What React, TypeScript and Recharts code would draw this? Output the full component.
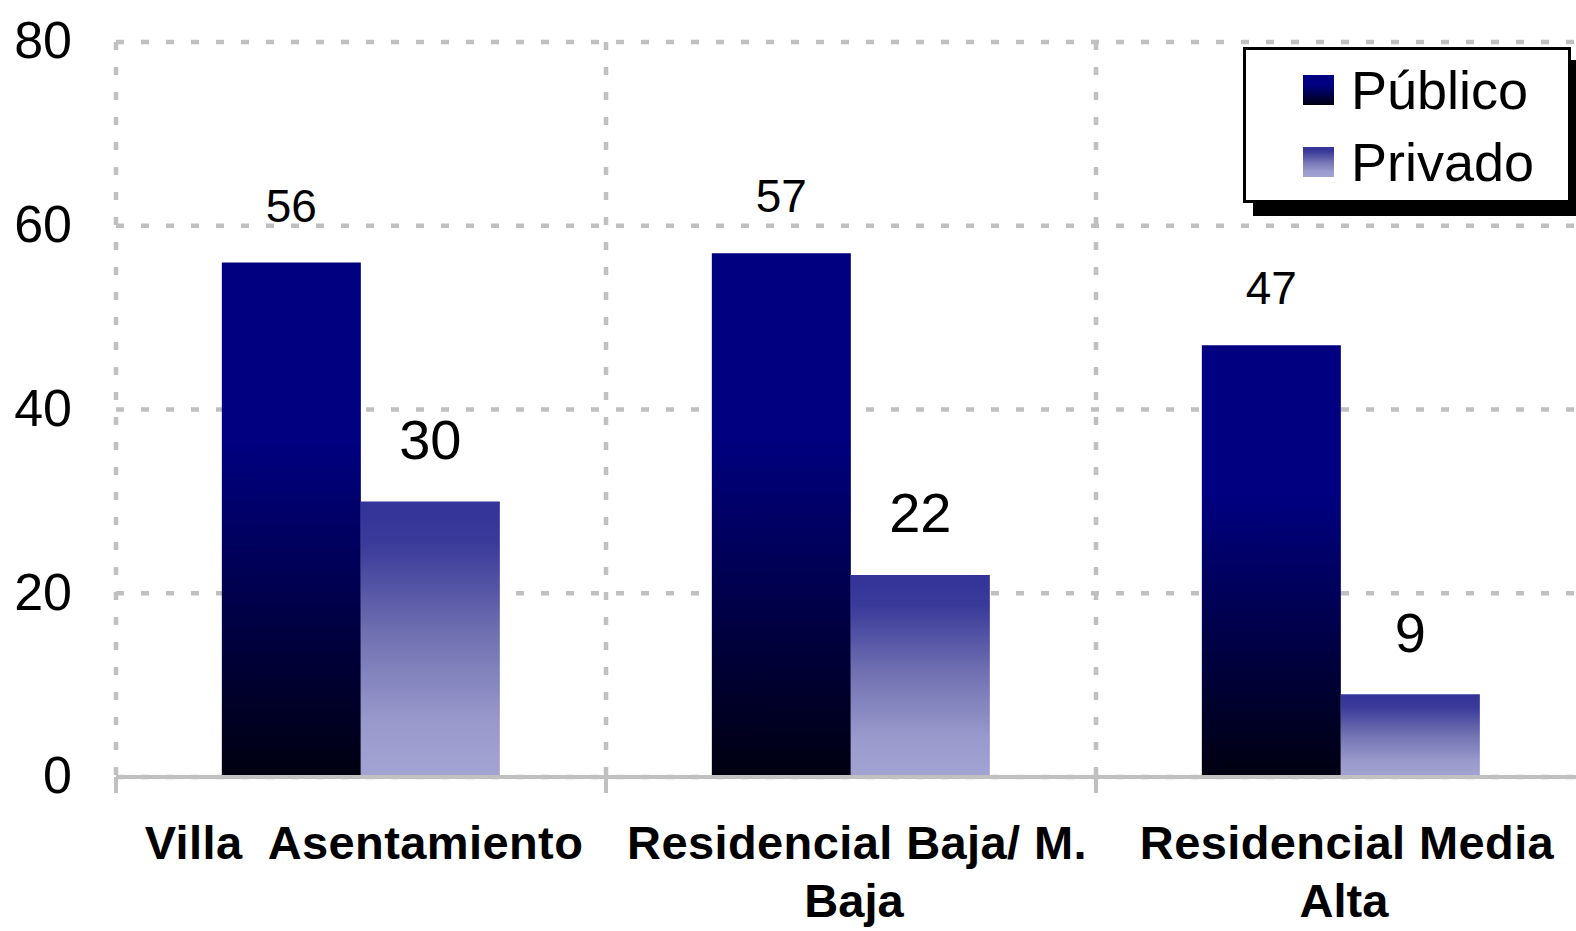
import { BarChart, Bar, XAxis, YAxis, CartesianGrid, Legend, LabelList } from 'recharts';

const categoryLines = [
  ['Villa  Asentamiento'],
  ['Residencial Baja/ M.', 'Baja'],
  ['Residencial Media', 'Alta'],
];
const categories = categoryLines.map(l => l.join(' '));
const publico = [56, 57, 47];
const privado = [30, 22, 9];
const yTicks = [0, 20, 40, 60, 80];
const seriesOrder = ['publico', 'privado'];

const data = categories.map((name, i) => ({ name, publico: publico[i], privado: privado[i] }));

const FONT = '"Liberation Sans", Arial, sans-serif';
const W = 1576;
const H = 931;
const TOP = 42;
const AXIS_Y = 777;
const LEFT = 116;
const RIGHT_MARGIN = -10;
const BAND = (W - LEFT - RIGHT_MARGIN) / categories.length;
const GRID = '#c0c0c0';

const XTick = ({ x, y, payload }: any) => {
  const idx = categories.indexOf(payload.value);
  const lines = categoryLines[idx] ?? [payload.value];
  const bx = x - BAND / 2;
  return (
    <g>
      <line x1={bx} y1={y} x2={bx} y2={y + 16} stroke={GRID} strokeWidth={4} />
      <text textAnchor="middle" fontFamily={FONT} fontWeight="bold" fontSize={47} fill="#000" style={{ whiteSpace: 'pre' }}>
        {lines.map((l, i) => (
          <tspan key={i} x={x + (i === 0 && lines.length > 1 ? 6 : 3)} y={y + 82 + i * 58} letterSpacing={i === 0 ? 0.4 : 0}>{l}</tspan>
        ))}
      </text>
    </g>
  );
};

const makeLabel = (size: number, gap: number) => ({ x, y, width, value }: any) => (
  <text x={x + width / 2} y={y - gap} textAnchor="middle" dominantBaseline="central" fontFamily={FONT} fontSize={size} fill="#000">
    {value}
  </text>
);

const SWATCH: Record<string, string> = {
  publico: 'linear-gradient(#000080 0%, #000080 35%, #000010 100%)',
  privado: 'linear-gradient(#333399 0%, #3a3a9a 15%, #7373b3 50%, #9999cc 80%, #a3a3d3 100%)',
};

const LegendBox = ({ payload }: any) => {
  const items = [...(payload ?? [])].sort(
    (a: any, b: any) => seriesOrder.indexOf(a.dataKey) - seriesOrder.indexOf(b.dataKey)
  );
  return (
    <div style={{
      position: 'relative', width: 328, height: 156, boxSizing: 'border-box',
      border: '3px solid #000', background: '#fff', boxShadow: '10px 13px 0 #000',
      fontFamily: FONT,
    }}>
      {items.map((p: any, i: number) => (
        <div key={i} style={{ position: 'absolute', left: 57, top: 4 + i * 72, height: 72, display: 'flex', alignItems: 'center' }}>
          <div style={{ width: 31, height: 30, background: SWATCH[p.dataKey] }} />
          <span style={{ marginLeft: 17, fontSize: 54, lineHeight: '54px', color: '#000' }}>{p.value}</span>
        </div>
      ))}
    </div>
  );
};

export default function App() {
  return (
    <div style={{ position: 'absolute', left: 0, top: 0, width: W, height: H, background: '#fff', overflow: 'hidden' }}>
      <BarChart
        width={W}
        height={H}
        data={data}
        margin={{ top: TOP, right: RIGHT_MARGIN, left: 0, bottom: 0 }}
        barGap={0}
        barCategoryGap="21.6%"
      >
        <defs>
          <linearGradient id="gradPub" x1="0" y1="0" x2="0" y2="1">
            <stop offset="0%" stopColor="#000080" />
            <stop offset="35%" stopColor="#000080" />
            <stop offset="100%" stopColor="#000010" />
          </linearGradient>
          <linearGradient id="gradPriv" x1="0" y1="0" x2="0" y2="1">
            <stop offset="0%" stopColor="#333399" />
            <stop offset="15%" stopColor="#3a3a9a" />
            <stop offset="50%" stopColor="#7373b3" />
            <stop offset="80%" stopColor="#9999cc" />
            <stop offset="100%" stopColor="#a3a3d3" />
          </linearGradient>
        </defs>
        <CartesianGrid
          stroke={GRID}
          strokeWidth={4.5}
          strokeDasharray="8 17"
          verticalCoordinatesGenerator={({ offset }: any) =>
            categories.map((_, i) => offset.left + (i * offset.width) / categories.length)
          }
        />
        <XAxis
          dataKey="name"
          interval={0}
          height={H - AXIS_Y}
          axisLine={{ stroke: GRID, strokeWidth: 4 }}
          tickLine={false}
          tickSize={0}
          tickMargin={0}
          tick={<XTick />}
        />
        <YAxis
          domain={[0, 80]}
          ticks={yTicks}
          interval={0}
          width={LEFT}
          axisLine={false}
          tickLine={false}
          tickSize={0}
          tickMargin={44}
          tick={{ fill: '#000', fontSize: 52, fontFamily: FONT, dy: -2 }}
        />
        <Legend
          layout="vertical"
          align="center"
          verticalAlign="middle"
          content={<LegendBox />}
          wrapperStyle={{ left: 1243, top: 47, width: 328, height: 156 }}
        />
        <Bar dataKey="publico" name="Público" fill="url(#gradPub)" isAnimationActive={false}>
          <LabelList dataKey="publico" content={makeLabel(46, 57)} />
        </Bar>
        <Bar dataKey="privado" name="Privado" fill="url(#gradPriv)" isAnimationActive={false}>
          <LabelList dataKey="privado" content={makeLabel(56, 62)} />
        </Bar>
      </BarChart>
    </div>
  );
}
